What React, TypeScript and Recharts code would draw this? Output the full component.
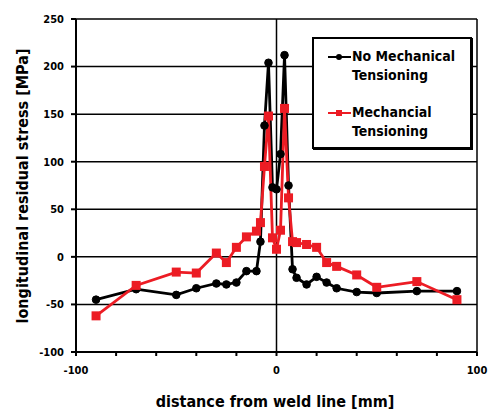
import React from 'react';
import { LineChart, Line, XAxis, YAxis, CartesianGrid, ReferenceLine, Legend } from 'recharts';

const distances = [-90, -70, -50, -40, -30, -25, -20, -15, -10, -8, -6, -4, -2, 0, 2, 4, 6, 8, 10, 15, 20, 25, 30, 40, 50, 70, 90];
const noTensioning = [-45, -34, -40, -33, -28, -29, -27, -15, -15, 16, 138, 204, 73, 71, 108, 212, 75, -13, -22, -29, -21, -27, -33, -37, -38, -36, -36];
const tensioning = [-62, -30, -16, -17, 4, -6, 10, 21, 27, 36, 95, 148, 20, 8, 28, 156, 62, 16, 15, 13, 10, -6, -10, -19, -32, -26, -45];
const xTicks = [-100, -80, -60, -40, -20, 0, 20, 40, 60, 80, 100];
const xLabelTicks = [-100, 0, 100];
const yTicks = [-100, -50, 0, 50, 100, 150, 200, 250];

const data = distances.map((d, i) => ({ x: d, a: noTensioning[i], b: tensioning[i] }));

const FONT = '"DejaVu Sans Condensed", "DejaVu Sans", sans-serif';
const RED = '#ec1c24';

const SquareDot = (props: any) => {
  const { cx, cy } = props;
  if (cx == null || cy == null) return null;
  return <rect x={cx - 4.5} y={cy - 4.5} width={9} height={9} fill={RED} stroke="none" />;
};

const LegendBox = () => (
  <div
    style={{
      width: 156,
      height: 108,
      border: '2px solid #000',
      boxShadow: '1px 1px 0 #000',
      background: '#fff',
      fontFamily: FONT,
      fontWeight: 'bold',
      fontSize: 14,
      position: 'relative',
    }}
  >
    <svg width={30} height={100} style={{ position: 'absolute', left: 12, top: 0 }}>
      <line x1={2} x2={25} y1={18} y2={18} stroke="#000" strokeWidth={2} />
      <circle cx={13} cy={18} r={3} fill="#000" />
      <line x1={2} x2={25} y1={74} y2={74} stroke={RED} strokeWidth={2} />
      <rect x={10} y={71} width={6} height={6} fill={RED} />
    </svg>
    <div style={{ position: 'absolute', left: 38, top: 8, lineHeight: '19px' }}>
      No Mechanical<br />Tensioning
    </div>
    <div style={{ position: 'absolute', left: 38, top: 64, lineHeight: '19px' }}>
      Mechancial<br />Tensioning
    </div>
  </div>
);

export default function App() {
  return (
    <div style={{ position: 'absolute', left: 0, top: 0, background: '#fff' }}>
      <LineChart width={489} height={412} data={data} margin={{ top: 19, right: 12, left: 0, bottom: 0 }}>
        <CartesianGrid vertical={false} stroke="#000" strokeWidth={1.5} />
        <XAxis
          type="number"
          dataKey="x"
          domain={[-100, 100]}
          ticks={xTicks}
          interval={0}
          tickFormatter={(v: number) => (xLabelTicks.includes(v) ? String(v) : '')}
          height={60}
          stroke="#000"
          strokeWidth={2}
          tickSize={4}
          tickMargin={10}
          tick={{ fill: '#000', fontSize: 11, fontWeight: 'bold', fontFamily: FONT }}
          label={{
            content: () => (
              <text x={275} y={407} textAnchor="middle" fontSize={16} fontWeight="bold" fontFamily={FONT} fill="#000">
                distance from weld line [mm]
              </text>
            ),
          }}
        />
        <YAxis
          type="number"
          domain={[-100, 250]}
          ticks={yTicks}
          interval={0}
          width={76}
          stroke="#000"
          strokeWidth={2}
          tickSize={5}
          tickMargin={7}
          tick={{ fill: '#000', fontSize: 11, fontWeight: 'bold', fontFamily: FONT }}
          label={{
            content: () => (
              <text
                x={22}
                y={186}
                transform="rotate(-90 22 186)"
                textAnchor="middle"
                dominantBaseline="central"
                fontSize={16}
                fontWeight="bold"
                fontFamily={FONT}
                fill="#000"
              >
                longitudinal residual stress [MPa]
              </text>
            ),
          }}
        />
        <ReferenceLine x={0} stroke="#000" strokeWidth={1.5} />
        <ReferenceLine x={100} stroke="#000" strokeWidth={1.5} />
        <Line
          type="linear"
          dataKey="a"
          stroke="#000"
          strokeWidth={2.8}
          dot={{ r: 3.8, fill: '#000', stroke: '#000', strokeWidth: 1 }}
          isAnimationActive={false}
        />
        <Line
          type="linear"
          dataKey="b"
          stroke={RED}
          strokeWidth={2.8}
          dot={<SquareDot />}
          isAnimationActive={false}
        />
        <Legend
          layout="horizontal"
          verticalAlign="middle"
          align="center"
          content={() => <LegendBox />}
          wrapperStyle={{ position: 'absolute', left: 312, top: 37, width: 'auto', height: 'auto' }}
        />
      </LineChart>
    </div>
  );
}
